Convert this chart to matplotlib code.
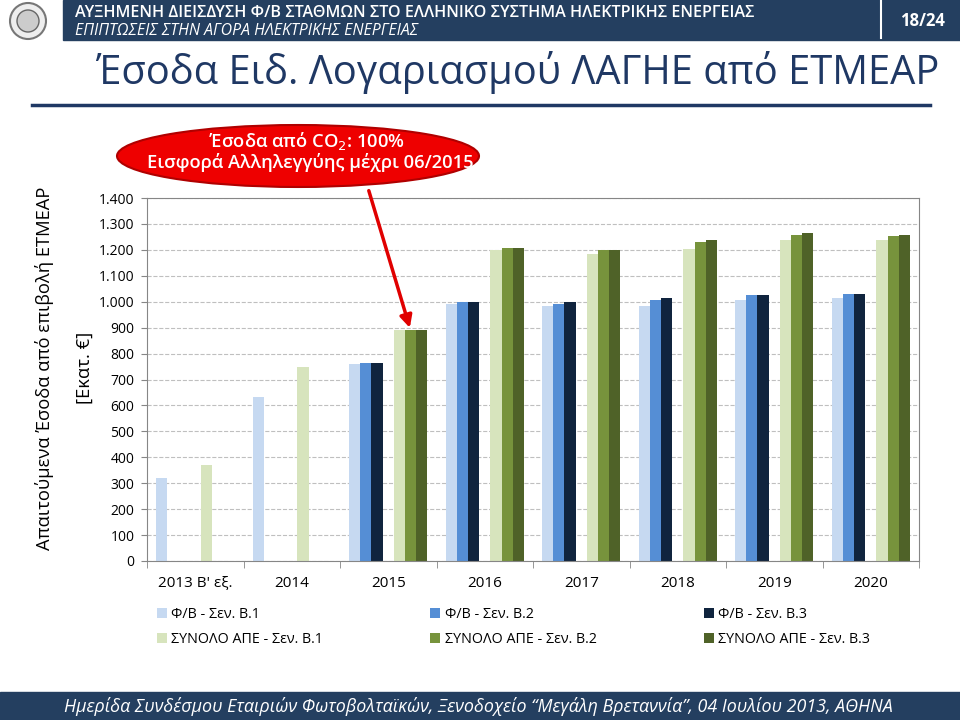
import numpy as np
import matplotlib
matplotlib.use('Agg')
import matplotlib.pyplot as plt
from matplotlib.patches import Rectangle, Ellipse
from matplotlib.ticker import FuncFormatter

plt.rcParams['font.family'] = ['Open Sans', 'DejaVu Sans']

# data (million EUR)
years = ["2013 Β' εξ.", '2014', '2015', '2016', '2017', '2018', '2019', '2020']
nan = np.nan
pv_b1 = [320, 632, 758, 990, 982, 985, 1005, 1013]
pv_b2 = [nan, nan, 762, 999, 992, 1005, 1027, 1031]
pv_b3 = [nan, nan, 762, 999, 997, 1013, 1027, 1031]
res_b1 = [371, 750, 889, 1201, 1185, 1203, 1237, 1237]
res_b2 = [nan, nan, 889, 1208, 1201, 1229, 1257, 1252]
res_b3 = [nan, nan, 889, 1208, 1201, 1237, 1264, 1256]

series = [
    ('Φ/Β - Σεν. Β.1', pv_b1, '#c6d9f1', 0),
    ('Φ/Β - Σεν. Β.2', pv_b2, '#558ed5', 1),
    ('Φ/Β - Σεν. Β.3', pv_b3, '#10243e', 2),
    ('ΣΥΝΟΛΟ ΑΠΕ - Σεν. Β.1', res_b1, '#d7e4bd', 4),
    ('ΣΥΝΟΛΟ ΑΠΕ - Σεν. Β.2', res_b2, '#77933c', 5),
    ('ΣΥΝΟΛΟ ΑΠΕ - Σεν. Β.3', res_b3, '#4f6228', 6),
]

navy = '#243f60'
fig = plt.figure(figsize=(9.6, 7.2), dpi=100)
W, H = 960.0, 720.0

# header bar
fig.patches.append(Rectangle((63 / W, 1 - 40 / H), 1 - 63 / W, 40 / H,
                             transform=fig.transFigure, color=navy, zorder=0))
fig.add_artist(plt.Line2D([881 / W, 881 / W], [1 - 38 / H, 1], color='white', lw=1.5))
fig.text(75 / W, 1 - 13 / H, 'ΑΥΞΗΜΕΝΗ ΔΙΕΙΣΔΥΣΗ Φ/Β ΣΤΑΘΜΩΝ ΣΤΟ ΕΛΛΗΝΙΚΟ ΣΥΣΤΗΜΑ ΗΛΕΚΤΡΙΚΗΣ ΕΝΕΡΓΕΙΑΣ',
         color='white', fontsize=11.6, fontweight='semibold', va='center', ha='left')
fig.text(75 / W, 1 - 31 / H, 'ΕΠΙΠΤΩΣΕΙΣ ΣΤΗΝ ΑΓΟΡΑ ΗΛΕΚΤΡΙΚΗΣ ΕΝΕΡΓΕΙΑΣ',
         color='white', fontsize=11.4, style='italic', va='center', ha='left')
fig.text(922 / W, 1 - 21 / H, '18/24', color='white', fontsize=12, fontweight='bold',
         va='center', ha='center')
# logo placeholder
fig.add_artist(Ellipse((28 / W, 1 - 21 / H), 36 / W, 36 / H, transform=fig.transFigure,
                       facecolor='#eeeeee', edgecolor='#777777', lw=1.5))
fig.add_artist(Ellipse((28 / W, 1 - 21 / H), 22 / W, 22 / H, transform=fig.transFigure,
                       facecolor='#cccccc', edgecolor='#666666', lw=1))

# title
fig.text(518 / W, 1 - 72 / H, 'Έσοδα Ειδ. Λογαριασμού ΛΑΓΗΕ από ΕΤΜΕΑΡ',
         color='#1f3864', fontsize=28.7, va='center', ha='center')
fig.add_artist(plt.Line2D([32 / W, 930 / W], [1 - 105 / H, 1 - 105 / H], color='#1f3864', lw=2.5))

# footer
fig.patches.append(Rectangle((0, 0), 1, 28 / H, transform=fig.transFigure, color=navy, zorder=0))
fig.text(478 / W, 14 / H, 'Ημερίδα Συνδέσμου Εταιριών Φωτοβολταϊκών, Ξενοδοχείο “Μεγάλη Βρεταννία”, 04 Ιουλίου 2013, ΑΘΗΝΑ',
         color='white', fontsize=12.9, style='italic', va='center', ha='center')

# chart
ax = fig.add_axes([147 / W, 1 - 561 / H, (919 - 147) / W, (561 - 198) / H])
x = np.arange(len(years))
w = 0.116
handles = []
for label, vals, col, slot in series:
    b = ax.bar(x + (slot - 3) * w, vals, width=w, color=col, label=label, zorder=2)
    handles.append(b)

ax.set_xlim(-0.5, len(years) - 0.5)
ax.set_ylim(0, 1400)
ax.set_yticks(np.arange(0, 1401, 100))
ax.yaxis.set_major_formatter(FuncFormatter(lambda v, p: f'{int(v):,}'.replace(',', '.')))
ax.yaxis.grid(True, linestyle='--', color='#bfbfbf', lw=0.8, zorder=0)
ax.set_axisbelow(True)
ax.set_xticks(x)
ax.set_xticklabels(years)
ax.set_xticks(np.arange(-0.5, len(years)), minor=True)
ax.tick_params(axis='x', which='major', length=0, pad=11, labelsize=11)
ax.tick_params(axis='x', which='minor', length=5, color='#868686')
ax.tick_params(axis='y', length=4, color='#868686', labelsize=10, pad=5)
for s in ax.spines.values():
    s.set_color('#868686')

# y label
fig.text(45 / W, 1 - 368 / H, 'Απαιτούμενα Έσοδα από επιβολή ΕΤΜΕΑΡ', rotation=90,
         fontsize=13.2, va='center', ha='center')
fig.text(85 / W, 1 - 368 / H, '[Εκατ. €]', rotation=90, fontsize=13.2, va='center', ha='center')

# legend, filled by column
order = [0, 3, 1, 4, 2, 5]
fig.legend([handles[i] for i in order], [series[i][0] for i in order],
           ncol=3, loc='upper left', bbox_to_anchor=(144 / W, 1 - 594 / H),
           frameon=False, fontsize=10.3, handlelength=0.7, handleheight=0.7,
           handletextpad=0.3, columnspacing=7.5, labelspacing=0.7)

# callout
fig.add_artist(Ellipse((298 / W, 1 - 156 / H), 362 / W, 62 / H, transform=fig.transFigure,
                       facecolor='#ee0000', edgecolor='#b00000', lw=1.5))
fig.text(307 / W, 1 - 141 / H, 'Έσοδα από CO$_2$: 100%', color='white', fontsize=13.2,
         fontweight='semibold', va='center', ha='center')
fig.text(310 / W, 1 - 163 / H, 'Εισφορά Αλληλεγγύης μέχρι 06/2015', color='white', fontsize=13.2,
         fontweight='semibold', va='center', ha='center')
ax.annotate('', xy=(2 + 2 * w, 889), xycoords='data',
            xytext=(368, H - 188), textcoords='figure pixels',
            arrowprops=dict(arrowstyle='-|>', color='#e00000', lw=2.5, mutation_scale=18),
            annotation_clip=False, zorder=5)

fig.savefig('out.png', dpi=100)
